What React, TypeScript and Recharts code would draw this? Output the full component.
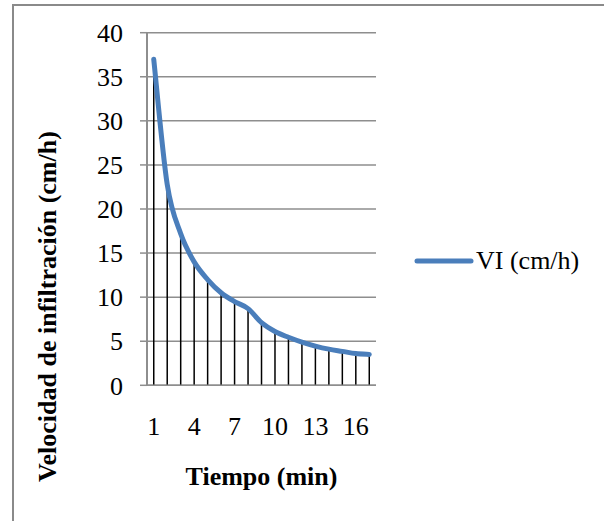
import { ComposedChart, Bar, Line, XAxis, YAxis, CartesianGrid, Legend, Label } from 'recharts'

// Tiempo (min) and infiltration rate readings
const minutes = ['1', '2', '3', '4', '5', '6', '7', '8', '9', '10', '11', '12', '13', '14', '15', '16', '17']
const infiltration = [37.0, 22.8, 17.2, 14.0, 12.0, 10.5, 9.5, 8.7, 7.1, 6.1, 5.45, 4.9, 4.45, 4.1, 3.85, 3.6, 3.5]
const yTicks = [0, 5, 10, 15, 20, 25, 30, 35, 40]

const seriesName = 'VI (cm/h)'
const FONT = 'Liberation Serif, Times New Roman, serif'
const BLUE = '#4a7ebb'
const GRID = '#8e8e8e'

const data = minutes.map((m, i) => ({ t: m, vi: infiltration[i] }))

// Catmull-Rom style smoothing (spreadsheet "smoothed line"), as a d3-compatible curve factory
function smoothCurve(context: any) {
  let pts: [number, number][] = []
  return {
    areaStart() {},
    areaEnd() {},
    lineStart() {
      pts = []
    },
    point(x: number, y: number) {
      pts.push([+x, +y])
    },
    lineEnd() {
      if (!pts.length) return
      context.moveTo(pts[0][0], pts[0][1])
      for (let i = 0; i < pts.length - 1; i++) {
        const p0 = pts[Math.max(i - 1, 0)]
        const p1 = pts[i]
        const p2 = pts[i + 1]
        const p3 = pts[Math.min(i + 2, pts.length - 1)]
        context.bezierCurveTo(
          p1[0] + (p2[0] - p0[0]) / 6,
          p1[1] + (p2[1] - p0[1]) / 6,
          p2[0] - (p3[0] - p1[0]) / 6,
          p2[1] - (p3[1] - p1[1]) / 6,
          p2[0],
          p2[1]
        )
      }
    },
  }
}

function LegendBox() {
  return (
    <div style={{ display: 'flex', alignItems: 'center', fontFamily: FONT, fontSize: 26, color: '#000' }}>
      <svg width={62} height={10}>
        <line x1={3} y1={5} x2={57} y2={5} stroke={BLUE} strokeWidth={5} strokeLinecap="round" />
      </svg>
      <span style={{ whiteSpace: 'nowrap' }}>{seriesName}</span>
    </div>
  )
}

export default function App() {
  return (
    <div style={{ position: 'fixed', left: 0, top: 0, width: 604, height: 521, background: '#fff', overflow: 'hidden', fontFamily: FONT }}>
      <div style={{ position: 'absolute', left: 12, top: 4, width: 700, height: 700, border: '2px solid #8a8a8a' }} />
      <div style={{ position: 'absolute', left: 0, top: 0 }}>
        <ComposedChart
          width={604}
          height={521}
          data={data}
          margin={{ top: 32.7, right: 228, bottom: 75.7, left: 0 }}
          style={{ fontFamily: FONT }}
        >
          <CartesianGrid vertical={false} stroke={GRID} strokeWidth={1.5} />
          <XAxis
            dataKey="t"
            interval={2}
            height={60}
            tickLine={false}
            tickSize={0}
            tickMargin={31}
            axisLine={{ stroke: GRID, strokeWidth: 1.5 }}
            tick={{ fill: '#000', fontSize: 26, fontFamily: FONT }}
          >
            <Label
              content={({ viewBox }: any) => (
                <text
                  x={viewBox.x + viewBox.width / 2}
                  y={viewBox.y + 91}
                  textAnchor="middle"
                  dominantBaseline="central"
                  fontFamily={FONT}
                  fontSize={26}
                  fontWeight="bold"
                  fill="#000"
                >
                  Tiempo (min)
                </text>
              )}
            />
          </XAxis>
          <YAxis
            width={147}
            domain={[0, 40]}
            ticks={yTicks}
            tickSize={7}
            tickMargin={17}
            tickLine={{ stroke: GRID, strokeWidth: 1.5 }}
            axisLine={{ stroke: GRID, strokeWidth: 2 }}
            tick={{ fill: '#000', fontSize: 26, fontFamily: FONT }}
          >
            <Label
              content={() => (
                <text
                  x={47}
                  y={306.5}
                  transform="rotate(-90 47 306.5)"
                  textAnchor="middle"
                  dominantBaseline="central"
                  fontFamily={FONT}
                  fontSize={26}
                  fontWeight="bold"
                  fill="#000"
                >
                  Velocidad de infiltración (cm/h)
                </text>
              )}
            />
          </YAxis>
          {/* centered + middle alignment keeps the legend from taking space off the plot */}
          <Legend
            layout="horizontal"
            verticalAlign="middle"
            align="center"
            content={() => <LegendBox />}
            wrapperStyle={{ position: 'absolute', left: 414, top: 246, width: 190 }}
          />
          {/* drop lines from each reading to the axis */}
          <Bar dataKey="vi" barSize={1.5} fill="#000" isAnimationActive={false} legendType="none" />
          <Line
            dataKey="vi"
            name={seriesName}
            type={smoothCurve as any}
            stroke={BLUE}
            strokeWidth={5}
            strokeLinecap="round"
            strokeLinejoin="round"
            dot={false}
            activeDot={false}
            isAnimationActive={false}
          />
        </ComposedChart>
      </div>
    </div>
  )
}
